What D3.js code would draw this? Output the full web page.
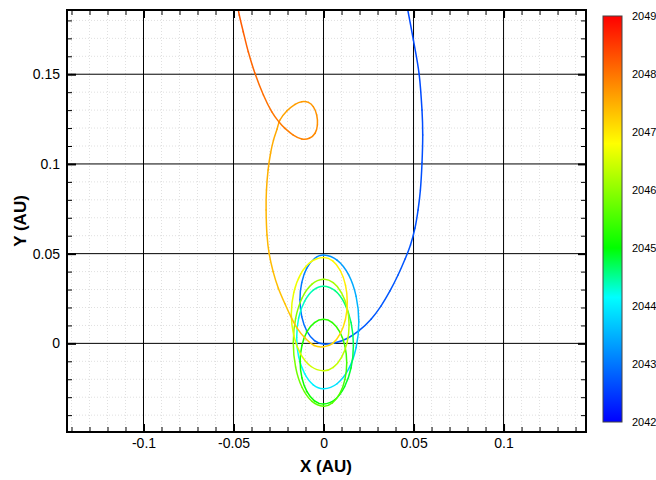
<!DOCTYPE html>
<html><head><meta charset="utf-8">
<script src="https://cdn.jsdelivr.net/npm/d3@7"></script>
<style>body{margin:0;background:#fff}svg{display:block}text{font-family:"Liberation Sans",Arial,sans-serif;fill:#000}</style>
</head><body>
<script>
// ---- data ----
const xTickValues = [-0.1, -0.05, 0, 0.05, 0.1];
const xTickLabels = ["-0.1", "-0.05", "0", "0.05", "0.1"];
const yTickValues = [0, 0.05, 0.1, 0.15];
const yTickLabels = ["0", "0.05", "0.1", "0.15"];
const colorbarYears = [2042, 2043, 2044, 2045, 2046, 2047, 2048, 2049];
const cmapYears = [2042, 2044.15, 2045, 2046.8, 2047.9, 2049];
const cmapColors = ["#0000ff", "#00ffff", "#00ff00", "#ffff00", "#ff8000", "#ff0000"];

const orbitX = [
0.0456,0.0468,0.0499,0.0531,0.0547,0.0551,0.0547,0.0538,0.0525,0.0508,0.0483,0.0453,0.0414,0.0369,0.0319,0.0264,0.0197,0.0131,0.0064,
0,-0.0050,-0.0093,-0.0121,-0.0131,-0.0121,-0.0093,-0.0050,0,
0.0075,0.0139,0.0181,0.0196,0.0181,0.0139,0.0075,0,
-0.0057,-0.0105,-0.0138,-0.0149,-0.0138,-0.0105,-0.0057,0,
0.0064,0.0117,0.0153,0.0166,0.0153,0.0117,0.0064,0,
-0.0050,-0.0092,-0.0120,-0.0130,-0.0120,-0.0092,-0.0050,0,
0.0049,0.0091,0.0119,0.0129,0.0119,0.0091,0.0049,0,
-0.0064,-0.0119,-0.0155,-0.0168,-0.0155,-0.0119,-0.0064,0,
0.0054,0.0100,0.0131,0.0142,0.0131,0.0100,0.0054,0,
-0.0069,-0.0127,-0.0165,-0.0179,-0.0165,-0.0127,-0.0069,0,
0.0051,0.0093,0.0122,0.0132,0.0122,0.0093,0.0051,0,
-0.0052,-0.0103,-0.0147,-0.0182,-0.0215,-0.0251,-0.0280,-0.0302,-0.0314,-0.0319,-0.0317,-0.0308,-0.0294,-0.0278,-0.0258,-0.0242,
-0.0204,-0.0158,-0.0121,-0.0084,-0.0057,-0.0038,-0.0034,-0.0047,-0.0079,-0.0121,-0.0168,-0.0214,-0.0246,
-0.0288,-0.0334,-0.0381,-0.0418,-0.0446,-0.0468,-0.0483
];
const orbitY = [
0.1914,0.1858,0.1691,0.1501,0.1300,0.1161,0.1005,0.0854,0.0743,0.0643,0.0548,0.0470,0.0381,0.0292,0.0208,0.0135,0.0071,0.0027,0.0003,
-0.0004,0.0015,0.0069,0.0149,0.0244,0.0339,0.0419,0.0473,0.0492,
0.0464,0.0383,0.0262,0.0120,-0.0023,-0.0144,-0.0225,-0.0253,
-0.0231,-0.0169,-0.0076,0.0033,0.0142,0.0235,0.0297,0.0319,
0.0294,0.0223,0.0116,-0.0010,-0.0136,-0.0242,-0.0313,-0.0338,
-0.0320,-0.0269,-0.0192,-0.0102,-0.0012,0.0065,0.0116,0.0134,
0.0116,0.0063,-0.0015,-0.0108,-0.0201,-0.0279,-0.0332,-0.0350,
-0.0323,-0.0246,-0.0132,0.0004,0.0139,0.0253,0.0330,0.0357,
0.0338,0.0282,0.0200,0.0102,0.0004,-0.0078,-0.0134,-0.0153,
-0.0129,-0.0060,0.0042,0.0163,0.0284,0.0386,0.0455,0.0479,
0.0460,0.0406,0.0325,0.0230,0.0135,0.0054,0.0000,-0.0019,
-0.0012,0.0030,0.0085,0.0150,0.0222,0.0307,0.0400,0.0500,0.0604,0.0743,0.0855,0.0966,0.1061,0.1133,0.1195,0.1245,
0.1295,0.1332,0.1347,0.1343,0.1319,0.1273,0.1217,0.1171,0.1143,0.1139,0.1161,0.1198,0.1232,
0.1291,0.1384,0.1505,0.1625,0.1737,0.1830,0.1914
];
const orbitT = [
2042.60,2042.61,2042.62,2042.63,2042.64,2042.65,2042.66,2042.67,2042.68,2042.69,2042.70,2042.71,2042.72,2042.73,2042.74,2042.75,2042.77,2042.78,2042.80,
2042.82,2042.865,2042.91,2042.955,2043.00,2043.045,2043.09,2043.135,2043.18,
2043.28,2043.38,2043.48,2043.58,2043.68,2043.78,2043.88,2043.98,
2044.04,2044.10,2044.16,2044.22,2044.29,2044.35,2044.41,2044.47,
2044.54,2044.60,2044.67,2044.74,2044.81,2044.87,2044.94,2045.01,
2045.04,2045.08,2045.11,2045.14,2045.18,2045.21,2045.25,2045.28,
2045.32,2045.37,2045.41,2045.46,2045.50,2045.55,2045.59,2045.64,
2045.70,2045.76,2045.82,2045.88,2045.93,2045.99,2046.05,2046.11,
2046.15,2046.19,2046.23,2046.27,2046.31,2046.34,2046.38,2046.42,
2046.47,2046.52,2046.56,2046.61,2046.66,2046.71,2046.75,2046.80,
2046.85,2046.90,2046.95,2047.00,2047.04,2047.09,2047.14,2047.19,
2047.22,2047.25,2047.28,2047.30,2047.32,2047.35,2047.37,2047.40,2047.42,2047.45,2047.47,2047.49,2047.51,2047.53,2047.555,2047.58,
2047.61,2047.64,2047.66,2047.69,2047.72,2047.75,2047.78,2047.81,2047.84,2047.87,2047.90,2047.93,2047.96,
2048.00,2048.05,2048.10,2048.15,2048.20,2048.24,2048.28
];

// ---- layout ----
const W = 656, H = 480;
const L = 67, R = 586, T = 10, B = 432;
const x = d3.scaleLinear().domain([-0.1425, 0.1458]).range([L, R]);
const y = d3.scaleLinear().domain([-0.0494, 0.1858]).range([B, T]);
const color = d3.scaleLinear().domain(cmapYears).range(cmapColors).interpolate(d3.interpolateRgb);

const svg = d3.select("body").append("svg").attr("width", W).attr("height", H);
svg.append("rect").attr("width", W).attr("height", H).attr("fill", "#fff");

const defs = svg.append("defs");
defs.append("clipPath").attr("id", "plotclip").append("rect")
  .attr("x", L).attr("y", T).attr("width", R - L).attr("height", B - T);

const r2 = v => Math.round(v * 1000) / 1000;
const xMinor = d3.range(-14, 15).map(v => r2(v / 100)).filter(v => !xTickValues.some(m => Math.abs(m - v) < 1e-9));
const yMinor = d3.range(-4, 19).map(v => r2(v / 100)).filter(v => !yTickValues.some(m => Math.abs(m - v) < 1e-9));

// minor dotted grid
const grid = svg.append("g");
grid.selectAll(".mgx").data(xMinor).join("line")
  .attr("x1", d => x(d)).attr("x2", d => x(d)).attr("y1", T).attr("y2", B)
  .attr("stroke", "#e0e0e0").attr("stroke-width", 1).attr("stroke-dasharray", "1,2");
grid.selectAll(".mgy").data(yMinor).join("line")
  .attr("x1", L).attr("x2", R).attr("y1", d => y(d)).attr("y2", d => y(d))
  .attr("stroke", "#e0e0e0").attr("stroke-width", 1).attr("stroke-dasharray", "1,2");
// major grid
grid.selectAll(".gx").data(xTickValues).join("line")
  .attr("x1", d => x(d)).attr("x2", d => x(d)).attr("y1", T).attr("y2", B)
  .attr("stroke", "#000").attr("stroke-width", 1);
grid.selectAll(".gy").data(yTickValues).join("line")
  .attr("x1", L).attr("x2", R).attr("y1", d => y(d)).attr("y2", d => y(d))
  .attr("stroke", "#000").attr("stroke-width", 1);

// orbit curve, coloured by time (Catmull-Rom segments)
const pts = orbitX.map((v, i) => [x(v), y(orbitY[i]), orbitT[i]]);
const curveG = svg.append("g").attr("clip-path", "url(#plotclip)");
const n = pts.length;
for (let i = 0; i < n - 1; i++) {
  const p0 = pts[Math.max(i - 1, 0)], p1 = pts[i], p2 = pts[i + 1], p3 = pts[Math.min(i + 2, n - 1)];
  const c1 = [p1[0] + (p2[0] - p0[0]) / 6, p1[1] + (p2[1] - p0[1]) / 6];
  const c2 = [p2[0] - (p3[0] - p1[0]) / 6, p2[1] - (p3[1] - p1[1]) / 6];
  curveG.append("path")
    .attr("d", `M${p1[0]},${p1[1]}C${c1[0]},${c1[1]} ${c2[0]},${c2[1]} ${p2[0]},${p2[1]}`)
    .attr("fill", "none").attr("stroke", color((p1[2] + p2[2]) / 2))
    .attr("stroke-width", 1.5).attr("stroke-linecap", "round");
}

// axes (inward ticks on all four sides)
const fontSize = "14px";
const axB = svg.append("g").attr("transform", `translate(0,${B})`)
  .call(d3.axisBottom(x).tickValues(xTickValues).tickSize(-8).tickPadding(6)
    .tickFormat((d, i) => xTickLabels[i]));
const axBm = svg.append("g").attr("transform", `translate(0,${B})`)
  .call(d3.axisBottom(x).tickValues(xMinor).tickSize(-5).tickFormat(""));
const axT = svg.append("g").attr("transform", `translate(0,${T})`)
  .call(d3.axisTop(x).tickValues(xTickValues).tickSize(-8).tickFormat(""));
const axTm = svg.append("g").attr("transform", `translate(0,${T})`)
  .call(d3.axisTop(x).tickValues(xMinor).tickSize(-5).tickFormat(""));
const axL = svg.append("g").attr("transform", `translate(${L},0)`)
  .call(d3.axisLeft(y).tickValues(yTickValues).tickSize(-9).tickPadding(7)
    .tickFormat((d, i) => yTickLabels[i]));
const axLm = svg.append("g").attr("transform", `translate(${L},0)`)
  .call(d3.axisLeft(y).tickValues(yMinor).tickSize(-5).tickFormat(""));
const axR = svg.append("g").attr("transform", `translate(${R},0)`)
  .call(d3.axisRight(y).tickValues(yTickValues).tickSize(-8).tickFormat(""));
const axRm = svg.append("g").attr("transform", `translate(${R},0)`)
  .call(d3.axisRight(y).tickValues(yMinor).tickSize(-5).tickFormat(""));

[axB, axT, axL, axR].forEach(g => { g.select(".domain").remove(); g.selectAll(".tick line").attr("stroke", "#000").attr("stroke-width", 2); });
[axBm, axTm, axLm, axRm].forEach(g => { g.select(".domain").remove(); g.selectAll(".tick line").attr("stroke", "#000").attr("stroke-width", 1); });
svg.selectAll(".tick text").attr("font-family", "Liberation Sans, Arial, sans-serif").attr("font-size", fontSize).attr("fill", "#000");

// frame
svg.append("rect").attr("x", L).attr("y", T).attr("width", R - L).attr("height", B - T)
  .attr("fill", "none").attr("stroke", "#000").attr("stroke-width", 2);

// axis titles
svg.append("text").attr("x", 326).attr("y", 472).attr("text-anchor", "middle")
  .attr("font-size", "17px").attr("font-weight", "bold").text("X (AU)");
svg.append("text").attr("transform", "translate(26,221) rotate(-90)").attr("text-anchor", "middle")
  .attr("font-size", "17px").attr("font-weight", "bold").text("Y (AU)");

// colour bar
const cbX = 603, cbW = 19, cbTop = 16, cbBot = 422;
const cy = d3.scaleLinear().domain([2042, 2049]).range([cbBot, cbTop]);
const grad = defs.append("linearGradient").attr("id", "cbgrad")
  .attr("x1", 0).attr("y1", 1).attr("x2", 0).attr("y2", 0);
grad.selectAll("stop").data(cmapYears).join("stop")
  .attr("offset", d => (d - 2042) / 7).attr("stop-color", d => color(d));
svg.append("rect").attr("x", cbX).attr("y", cbTop).attr("width", cbW).attr("height", cbBot - cbTop)
  .attr("fill", "url(#cbgrad)").attr("stroke", "#444").attr("stroke-width", 1);
svg.selectAll(".cbl").data(colorbarYears).join("text")
  .attr("x", 632).attr("y", d => cy(d)).attr("dy", "0.35em")
  .attr("font-size", "11px").text(d => d);
</script>
</body></html>
